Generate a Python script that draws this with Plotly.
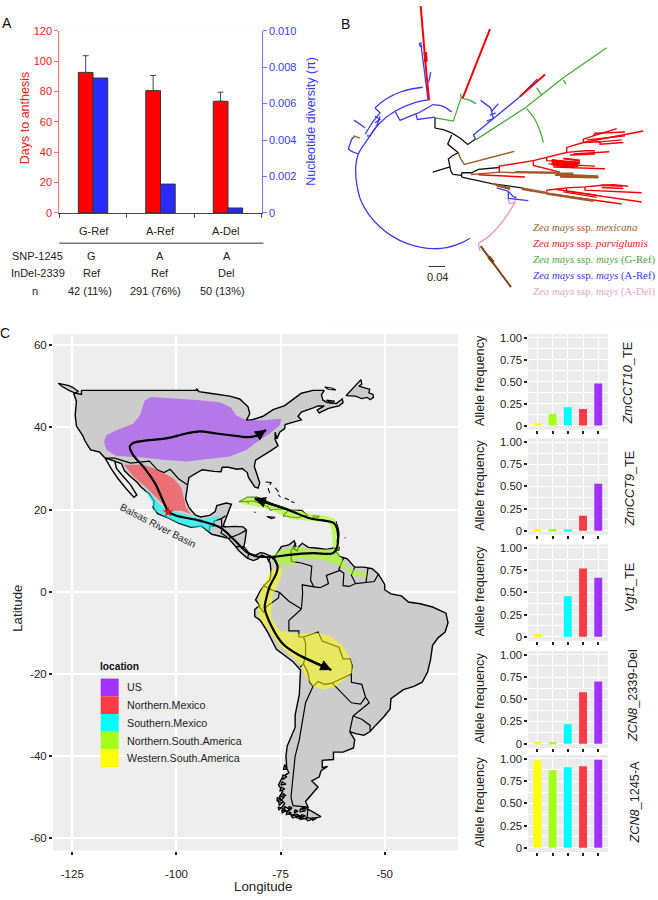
import plotly.graph_objects as go

W, H = 658, 900

# ---------- Panel A data ----------
hap_labels = ["G-Ref", "A-Ref", "A-Del"]
hap_pos = [0, 1, 2]
days_to_anthesis = [92.5, 80.5, 73.5]
days_err = [11, 10, 6]
nucleotide_div = [0.0074, 0.00158, 0.00027]
days_ticks = [0, 20, 40, 60, 80, 100, 120]
div_ticks = [0, 0.002, 0.004, 0.006, 0.008, 0.010]
div_tick_text = ["0", "0.002", "0.004", "0.006", "0.008", "0.010"]
row_snp = ["G", "A", "A"]
row_indel = ["Ref", "Ref", "Del"]
row_n = ["42 (11%)", "291 (76%)", "50 (13%)"]

# ---------- Panel B data: tree branches (tree layout units, 0.04 = 49 units) ----------
tree_black = [
 [(308,505),(360,489)],
 [(368,512),(362,500),(360,489),(357,476),(355,465),(366,456),(385,446)],
 [(353,420),(365,392)],
 [(353,420),(366,430),(378,438),(385,446)],
 [(315,340),(315,371),(340,376),(365,386),(392,403),(413,421),(436,405)],
 [(368,512),(395,515)],
 [(395,507),(396,515),(395,520)],
 [(395,507),(425,507),(445,497),(508,491)],
 [(395,520),(485,540),(575,553)],
]
tree_brown = [
 [(385,446),(392,465),(403,482),(553,442)],
 [(425,507),(425,512),(510,505)],
 [(508,505),(555,507)],
 [(485,540),(500,545),(540,553)],
 [(500,545),(540,557)],
 [(690,520),(805,522)],
 [(575,553),(650,567)],
 [(575,557),(650,570)],
 [(650,560),(650,570)],
 [(71,395),(90,402)],
]
tree_brown_thick = [
 [(555,505),(675,507)],
 [(675,503),(685,510),(730,510)],
 [(675,513),(805,518)],
 [(650,570),(790,592)],
 [(500,545),(540,555)],
]
tree_red = [
 [(508,484),(508,505)],
 [(508,487),(610,470)],
 [(610,470),(650,460),(710,445),(710,430),(760,415),(940,380)],
 [(760,415),(760,405),(790,395),(860,373)],
 [(790,395),(795,387),(885,383)],
 [(770,407),(885,395)],
 [(760,415),(810,413),(810,420),(880,415)],
 [(810,413),(875,407)],
 [(710,445),(765,440),(795,440)],
 [(730,450),(838,443)],
 [(720,453),(795,450)],
 [(650,460),(650,470),(750,475)],
 [(610,470),(610,485),(690,505)],
 [(655,480),(795,487)],
 [(670,490),(825,495)],
 [(445,513),(585,520)],
 [(690,518),(805,519)],
 [(650,560),(710,553),(765,550),(815,545),(878,548)],
 [(815,545),(850,543),(895,548)],
 [(765,550),(765,560),(935,568)],
 [(815,552),(880,555)],
 [(710,553),(710,563),(935,596)],
 [(680,558),(800,575)],
 [(650,570),(875,602)],
 [(700,565),(800,582)],
 [(575,553),(605,563)],
]
tree_red_thick = [
 [(287,180),(297,285)],
 [(272,0),(287,180)],
 [(480,70),(398,280)],
 [(645,208),(570,275)],
 [(665,468),(750,478)],
 [(665,473),(745,482)],
 [(665,478),(745,487)],
 [(668,484),(735,490)],
 [(700,464),(750,470)],
]
tree_red_block = [
 [(286,140),(288,170)],
]
tree_blue = [
 [(85,450),(65,442),(55,435),(65,405),(75,395)],
 [(72,347),(105,370)],
 [(135,310),(150,325),(130,350),(105,390)],
 [(110,395),(120,395),(140,365),(150,335)],
 [(135,335),(150,345),(135,355)],
 [(195,320),(210,348)],
 [(258,328),(262,345),(315,338)],
 [(272,110),(294,285)],
 [(268,112),(270,122),(277,125)],
 [(296,232),(302,200)],
 [(430,392),(437,405)],
 [(430,392),(565,280),(622,222)],
 [(470,350),(490,342),(482,310),(452,287)],
 [(485,320),(505,297)],
 [(480,332),(497,325)],
 [(500,553),(535,563),(535,585),(595,592)],
 [(535,563),(550,580),(560,583)],
]
tree_blue_arcs = [
 [(420,706),(390,722),(350,735),(310,738),(270,733),(230,722),(190,702),(150,672),(115,632),(92,590),
  (80,540),(77,505),(78,480),(85,450),(110,410),(150,355),(195,320),(250,295),(300,285)],
 [(135,310),(165,285),(215,260),(278,247)],
 [(210,348),(240,335),(275,320),(305,302)],
 [(305,300),(335,304),(365,322)],
]
tree_green = [
 [(315,340),(370,350),(393,280)],
 [(437,407),(585,310),(700,218),(830,127)],
 [(620,248),(635,270)],
 [(700,225),(708,238)],
]
tree_green_arcs = [
 [(392,266),(395,280),(415,285),(438,297)],
 [(590,312),(615,345),(630,380),(640,415)],
]
tree_pink = [
 [(445,722),(450,745)],
 [(535,585),(538,600),(555,598),(555,580)],
]
tree_pink_arcs = [
 [(445,722),(480,697),(510,665),(535,630),(555,598)],
]
tree_arrow_brown = [
 [(452,730),(543,855)],
]
tree_arrow_brown_thick = [
 [(476,762),(490,780)],
]
tree_legend = [
 ("<i>Zea mays</i> ssp. <i>mexicana</i>", "#9C5A2A"),
 ("<i>Zea mays</i> ssp. <i>parviglumis</i>", "#F01818"),
 ("<i>Zea mays</i> ssp. <i>mays</i> (G-Ref)", "#49A83A"),
 ("<i>Zea mays</i> ssp. <i>mays</i> (A-Ref)", "#3A3AEE"),
 ("<i>Zea mays</i> ssp. <i>mays</i> (A-Del)", "#EBA3CB"),
]

# ---------- Panel C data: map (lon, lat) ----------
americas = [
 (-122.8,49),(-95.2,49),(-95.2,49.4),(-94.6,48.7),(-92,48.3),(-89.5,48),(-87.2,47.6),(-84.8,46.9),(-82.8,45),(-82.4,43.3),
 (-83.2,41.7),(-81.6,41.9),(-79.2,42.7),(-76.8,44.3),(-74,45.3),(-72.4,46.5),(-70,48.3),(-67.2,49),(-64.5,49),(-65.2,47.9),(-64.8,46.6),
 (-63.8,46),(-61.6,45.8),(-60.2,46.9),(-60,46),(-61,45.2),(-63.5,44.6),(-65.7,43.5),(-66.2,44.2),(-64.5,45.2),(-66,45.2),(-67,44.8),
 (-68.5,44.3),(-70,43.7),(-70.8,42.7),(-70,41.8),(-71.5,41.4),(-73.9,40.7),(-74,39.7),(-75.2,38.8),(-75.9,37.2),(-76.3,38.8),(-76.3,37),(-75.6,35.5),
 (-77.5,34.2),(-79,33.2),(-81,32),(-81.3,30.5),(-80.5,28.2),(-80,26.5),(-80.4,25.2),(-81.2,25.5),(-82.7,27.8),(-83,29),(-84.2,30),
 (-85.5,29.8),(-87.5,30.3),(-89,30.3),(-89.3,29.2),(-91,29.3),(-93.8,29.7),(-95,29),(-97,27.8),(-97.3,26),(-97.8,22.5),(-97,20.5),
 (-95.5,18.7),(-94.2,18.2),(-92,18.6),(-90.7,19.5),(-90.3,21),(-88,21.6),(-86.8,21.3),(-87.5,19.5),(-88,18),(-88.8,16),(-88,15.8),
 (-86,15.9),(-84,15.8),(-83.2,15),(-83.5,12.5),(-83.8,11),(-82.5,9.3),(-81,8.9),(-79.8,9.5),(-79,9.4),(-77.4,8.7),(-76.8,8),(-75.6,9.7),
 (-74.8,11),(-73,11.4),(-71.7,12.4),(-71.3,11),(-71.8,10.4),(-71,10),(-70.6,11),(-69.8,11.8),(-68.3,10.8),(-66,10.6),(-64,10.3),(-62,10.7),
 (-61.8,10),(-60.8,8.6),(-59,8),(-57.2,6),(-55,6),(-53,5.6),(-51.5,4.3),(-50,1.8),(-50,0.5),(-48.5,-0.5),(-46,-1),(-44.3,-2.5),(-41.5,-2.9),
 (-38.5,-3.7),(-35.3,-5.2),(-34.8,-7.5),(-35.5,-9.8),(-37.2,-11.2),(-38.5,-13),(-39,-16.5),(-39.7,-19.5),(-41,-22),(-43,-23),(-45.5,-23.8),
 (-48.5,-26),(-48.7,-28.5),(-50.3,-30.5),(-52.2,-32.5),(-53.5,-34),(-55,-34.9),(-57,-34.5),(-58.4,-34),(-57.2,-36),(-57.5,-38),(-60,-39),
 (-62.3,-39),(-62.3,-40.8),(-65,-41),(-65,-42.8),(-63.7,-42.5),(-65.3,-43.5),(-65.7,-45),(-67.5,-46),(-66,-47.5),(-68,-50),(-69,-51),
 (-68.4,-52.4),(-70,-52.6),(-68.2,-53),(-65.3,-54.7),(-68,-55.4),(-71,-55),(-73,-54),(-74.8,-52.5),(-74,-51.5),(-75.3,-50),(-74.5,-48.5),(-75.5,-47),(-74.5,-45),
 (-73,-44),(-73.5,-43),(-73.7,-40),(-73.4,-37.5),(-71.5,-33),(-71.5,-30),(-70.5,-25),(-70.2,-19),(-72,-17),(-76,-14),(-78,-10),(-79.8,-7),
 (-81.2,-6),(-81.2,-4.3),(-80,-3.3),(-81,-2),(-80,0),(-79,1.5),(-77.5,3),(-77.3,5),(-77.5,7),(-78.3,8.3),(-79.5,8.9),(-80.5,8),(-81.5,7.6),
 (-83,8.2),(-85,10),(-85.8,11),(-87.5,13),(-89.5,13.5),(-91.5,14),(-94,16),(-96.5,15.7),(-99.5,16.7),(-102,18),(-104.5,19),(-105.6,20.5),
 (-105.3,22),(-106.5,23.8),(-108.5,25.5),(-109.5,26.7),(-111,28),(-112.5,29.5),(-113.2,31.2),(-114.8,31.8),(-117.1,32.5),(-118.5,34),
 (-120.6,34.5),(-122,36.8),(-122.5,38),(-124,40.3),(-124.3,43),(-124,46.3),(-124.7,48.4),(-122.8,48),(-122.8,49),
]
baja = [(-114.8,31.8),(-114.4,30),(-112.7,28),(-111,26),(-109.5,23.5),(-110.2,23),(-112,25),(-114,27.5),(-115.7,30),(-117.1,32.5),(-114.8,31.8)]
islands_land = [
 [(-128.4,50.7),(-126,50.2),(-125,49.8),(-123.5,48.7),(-124.5,48.4),(-125.8,49),(-127.5,50),(-128.4,50.7)],
 [(-59.3,47.7),(-58.5,48.6),(-57.8,49.5),(-56.7,50.6),(-55.7,51.6),(-55.5,50.5),(-56.2,50),(-54.8,49.6),(-53.6,49.3),(-53.8,48.4),(-52.8,48),(-52.7,47.3),(-53.5,46.7),(-54.2,47.3),(-55.5,47),(-57,47.6),(-59.3,47.7)],
 [(-64,46.6),(-62,46.4),(-63,46),(-64,46.6)],
 [(-74.2,-52.2),(-72.5,-53),(-73.8,-53.4),(-74.2,-52.2)],
 [(-71.5,-54),(-70,-54.6),(-72.5,-54.6),(-71.5,-54)],
 [(-69,-54.9),(-67,-55.2),(-68.5,-55.7),(-69,-54.9)],
 [(-75.2,-49.5),(-74.2,-50),(-75,-50.8),(-75.2,-49.5)],
 [(-74.8,-47.5),(-74,-48),(-75.2,-48.5),(-74.8,-47.5)],
 [(-74,-42),(-73.5,-43.2),(-74.3,-43.2),(-74,-42)],
 [(-74.5,-44.5),(-73.5,-45),(-74.4,-45.6),(-74.5,-44.5)],
 [(-74.6,-46.2),(-73.7,-46.8),(-74.9,-47),(-74.6,-46.2)],
 [(-70.3,-52.8),(-69,-53.3),(-70.3,-53.5),(-70.3,-52.8)],
 [(-75.5,-51),(-74.6,-51.3),(-75.3,-52),(-75.5,-51)],
 [(-73.5,-53.4),(-72.4,-53.8),(-73.6,-54.2),(-73.5,-53.4)],
 [(-72.4,-54.2),(-71.2,-54.6),(-72.1,-55),(-72.4,-54.2)],
 [(-70.5,-54.8),(-69.3,-55.1),(-70.3,-55.4),(-70.5,-54.8)],
 [(-74.4,-49),(-73.8,-49.5),(-74.5,-49.9),(-74.4,-49)],
 [(-75.6,-52.3),(-74.9,-52.6),(-75.4,-53.1),(-75.6,-52.3)],
 [(-74.7,-53),(-74,-53.4),(-74.6,-53.8),(-74.7,-53)],
 [(-75.8,-50),(-75.2,-50.5),(-75.8,-51),(-75.8,-50)],
 [(-73,-52.2),(-72.2,-52.6),(-73,-53),(-73,-52.2)],
 [(-71.5,-53),(-70.8,-53.4),(-71.7,-53.7),(-71.5,-53)],
 [(-70,-54.2),(-69,-54.5),(-70,-54.8),(-70,-54.2)],
 [(-67.5,-55),(-66.5,-55.2),(-67.3,-55.6),(-67.5,-55)],
]
islands_bare = [
 [(-64.4,49.8),(-62.5,49.5),(-61.7,49.1),(-63.5,49.2),(-64.4,49.8)],
 [(-84.9,21.9),(-83,23),(-80.5,23),(-77.5,21.7),(-74.2,20.2),(-77.5,19.9),(-78,20.7),(-81.5,22.1),(-84,21.9),(-84.9,21.9)],
 [(-78.3,18.3),(-76.3,18.1),(-77.2,17.8),(-78.3,18.3)],
 [(-74.4,18.5),(-73,19.9),(-70,19.8),(-68.4,18.6),(-71,18),(-72,18.2),(-74.4,18.5)],
 [(-67.2,18.5),(-65.7,18.4),(-66,18),(-67.2,18),(-67.2,18.5)],
 [(-78.6,26.7),(-77.2,26.6),(-77.6,26)],
 [(-78,25.2),(-77.6,24),(-77.9,24.5),(-78,25.2)],
 [(-76.3,25.3),(-75.5,24.3)],
 [(-75.5,23.6),(-75,23)],
 [(-74,22.8),(-73,22.4)],
 [(-72.5,21.9),(-71.6,21.7)],
 [(-83,21.9),(-82.6,21.5)],
 [(-81.3,19.4),(-81,19.3)],
 [(-61.7,17.2),(-61.4,16.5),(-61.2,15.6),(-61,14.6),(-61,13.3),(-61.7,12.2)],
 [(-61.7,10.7),(-60.9,10.8),(-61,10.1),(-61.7,10.1),(-61.7,10.7)],
 [(-59.6,13.2),(-59.4,13.1)],
]
borders = [
 [(-117.1,32.5),(-114.8,32.5),(-111,31.3),(-108.2,31.7),(-106.5,31.8),(-104.5,29.6),(-103,29),(-101.5,29.8),(-99.5,27.5),(-97.3,26)],
 [(-92.2,14.5),(-92,16),(-91,16),(-91,17.2),(-89.2,17.8),(-89.1,15.9),(-88.2,15.7)],
 [(-89.2,17.8),(-88.2,18.5)],
 [(-89.1,15),(-89.3,14.3),(-87.8,13.3)],
 [(-87.5,13),(-85,14),(-83.2,15)],
 [(-85.7,11),(-83.7,10.9)],
 [(-82.9,8.2),(-82.6,9.5)],
 [(-77.9,7.2),(-77.4,8.7)],
 [(-71.3,11.8),(-72.5,10),(-72.4,7.4),(-70,7),(-67.5,6.2),(-67.8,2.8),(-67,1.2)],
 [(-67,1.2),(-69.8,1.7),(-69.7,-0.5),(-70,-4.2)],
 [(-79,1.4),(-77,0.4),(-75.3,-0.1)],
 [(-75.3,-0.1),(-73,-2.3),(-70,-4.2)],
 [(-75.3,-0.1),(-75.5,-1.5),(-78.3,-3.5),(-79,-5),(-80.3,-3.4)],
 [(-70,-4.2),(-73,-7),(-73,-9.5),(-70.6,-9.5),(-70.6,-11),(-69.5,-11)],
 [(-69.5,-11),(-69,-12.5),(-69,-15.5),(-69.5,-17.5),(-70.3,-18.3)],
 [(-69.5,-17.5),(-68.5,-19.5),(-68,-22),(-67.2,-23)],
 [(-69.5,-11),(-66,-9.8),(-65,-12),(-61,-13.5),(-60,-16.3),(-58.3,-16.3),(-57.8,-18),(-58,-20)],
 [(-58,-20),(-62.3,-22),(-62.6,-22.2)],
 [(-62.6,-22.2),(-64.5,-22.5),(-66,-21.8),(-67.2,-23)],
 [(-67.2,-23),(-69,-27),(-70,-33),(-70.5,-36),(-71.5,-40),(-72,-45),(-72.5,-50),(-72,-52),(-68.4,-52.4)],
 [(-62.6,-22.2),(-58,-27),(-55.8,-27.3),(-54.6,-25.6)],
 [(-58,-20),(-58,-22),(-55.5,-22.5),(-54.6,-25.6)],
 [(-54.6,-25.6),(-53.7,-27),(-57.6,-30.2)],
 [(-57.6,-30.2),(-58.3,-33.5),(-58.4,-34)],
 [(-57.6,-30.2),(-55.5,-31),(-53.5,-32.5),(-53.5,-34)],
 [(-59.8,8.4),(-61,5.5),(-60.7,5.2)],
 [(-60.7,5.2),(-64,4),(-63.5,2),(-65.5,1),(-67,1.2)],
 [(-60.7,5.2),(-59.8,4.5),(-60,1.5),(-58.5,1.3),(-57,2)],
 [(-57.2,6),(-58,4),(-57,2)],
 [(-54,5.8),(-54.5,2.3)],
 [(-57,2),(-54.5,2.3),(-52.5,2.5),(-51.5,4.3)],
 [(-68.4,-52.4),(-68.6,-54.8)],
]
region_us = [(-117.4,36.5),(-116.8,38.1),(-114.4,39.3),(-110.4,40.9),(-108.8,42.9),(-107.6,46.5),(-106,47.4),(-100.8,47.1),(-94.4,46.6),
 (-89.6,46.1),(-87,44.9),(-85.6,42.9),(-83.2,41.7),(-79.2,41.7),(-74.8,42.1),(-75.2,40.5),(-77.6,38.5),(-80,36.9),(-83.2,34.5),(-87.2,32.9),
 (-90.4,32.5),(-97.6,31.7),(-103.2,32.1),(-108.8,32.7),(-114.4,33),(-116.8,34.5)]
region_nmex = [(-112.6,30.9),(-108,30.9),(-105.6,30.1),(-103.2,28.9),(-100.8,27.7),(-98.8,25.3),(-98.4,23.3),(-97.7,20.5),(-96.6,18.9),
 (-98.8,19.7),(-101.6,19.7),(-103.2,21.3),(-105.2,23.3),(-107.2,25.3),(-110.4,28.1)]
region_smex = [(-108,25.7),(-105.6,22.9),(-103.2,20.5),(-100,19.4),(-96.8,18.5),(-93.6,17.7),(-89.6,18.5),(-90.4,17.3),(-91.2,16.1),(-92,14.5),
 (-93.6,15.7),(-96.4,15.7),(-100,16.9),(-103.2,18.5),(-105.2,19.7),(-106,22.1)]
region_nsa_carib = [(-84.9,22.1),(-83.2,23.1),(-80.8,22.9),(-77.6,21.8),(-72.8,20.2),(-68,19),(-64,18.5),(-62,17.7),(-61.2,15.3),(-60.9,10.5),
 (-62.4,10.5),(-62.8,15.3),(-63.6,16.9),(-68,17.3),(-72.8,17.7),(-76.8,19.7),(-79.2,20.5),(-81.6,20.9),(-84,21.3)]
region_nsa_main = [(-76.8,8.5),(-75.2,10.1),(-71.2,11),(-67.2,10.1),(-61.6,10.5),(-60.4,8.1),(-58.8,5.7),(-54.4,4.7),(-54.4,3.4),(-57.6,3.9),
 (-60.4,6.1),(-64.8,7.7),(-70.4,8.2),(-72.4,6.3),(-75.6,6.6),(-76.8,7.3)]
region_wsa = [(-76.9,5.7),(-74.4,5.7),(-75.2,2.5),(-76.8,-0.7),(-77.2,-3.9),(-77.2,-6.3),(-75.2,-9.5),(-71.2,-10.2),(-66.4,-9.9),(-63.2,-10.7),
 (-60,-13.1),(-58,-16.7),(-57.6,-19.5),(-59.2,-21.1),(-62,-23.1),(-64.4,-23.8),(-67.2,-23.1),(-69.2,-20.3),(-70,-17.9),(-72,-15.9),(-75.2,-13.1),
 (-77.6,-9.9),(-80.4,-5.9),(-80.4,-3.9),(-80,-0.3),(-78.8,2.5)]
route_north = [(-102,19.4),(-103.2,22.1),(-105.2,26.5),(-108,30.5),(-110.4,33.3),(-111.2,35.3),(-110.4,36.2),(-108,36.7),(-102.4,37.3),
 (-97.6,38.5),(-94.4,39),(-90.4,38.5),(-84.8,37.8),(-83.2,37.6),(-80.4,38.1),(-78.5,39.4)]
route_east = [(-102,19.4),(-100,18.5),(-94.4,17.3),(-89.6,15.7),(-86.4,12.9),(-83.2,9.7),(-81.2,8.7),(-76.8,8.5),(-72.8,9),(-67.2,9.4),(-62.4,9.4),
 (-61.4,10.9),(-61.4,15.3),(-62.2,16.7),(-68,17.9),(-73.6,20.1),(-81.2,22.6)]
route_south = [(-76.8,8.5),(-75.7,6.1),(-76,4.5),(-77.6,1.3),(-78.5,-1.9),(-78.8,-3.9),(-77.2,-8.3),(-74.4,-12.7),(-70.4,-15.5),(-62.8,-19)]
origin_star = (-102, 19.4)
lon_ticks = [-125, -100, -75, -50]
lon_tick_text = ["-125", "-100", "-75", "-50"]
lat_ticks = [60, 40, 20, 0, -20, -40, -60]
lat_tick_text = ["60", "40", "20", "0", "-20", "-40", "-60"]
locations = ["US", "Northern.Mexico", "Southern.Mexico", "Northern.South.America", "Western.South.America"]
location_colors = ["#A033FF", "#FF3B46", "#00FFFF", "#A6FF1A", "#FFFF00"]

# ---------- Allele frequency panels ----------
bar_colors = ["#FFFF00", "#A6FF1A", "#00FFFF", "#FF3B46", "#A033FF"]
bar_cats = [0, 1, 2, 3, 4]
freq_zmcct10 = [0.025, 0.135, 0.21, 0.19, 0.48]
freq_zmcct9 = [0.02, 0.02, 0.015, 0.17, 0.53]
freq_vgt1 = [0.03, 0, 0.455, 0.77, 0.665]
freq_del = [0.02, 0.02, 0.22, 0.58, 0.70]
freq_1245 = [0.98, 0.87, 0.905, 0.915, 0.99]
freq_ticks = [0, 0.25, 0.5, 0.75, 1.0]
freq_tick_text = ["0", "0.25", "0.50", "0.75", "1.00"]
freq_minor = [0.125, 0.375, 0.625, 0.875]
freq_names = ["<i>ZmCCT10</i>_TE", "<i>ZmCCT9</i>_TE", "<i>Vgt1</i>_TE", "<i>ZCN8</i>_2339-Del", "<i>ZCN8</i>_1245-A"]
freq_series = [freq_zmcct10, freq_zmcct9, freq_vgt1, freq_del, freq_1245]

# ---------- layout helpers ----------
FONT = "Liberation Sans, Arial, sans-serif"
def xdom(a, b): return [a / W, b / W]
def ydom(top, bottom): return [1 - bottom / H, 1 - top / H]

fig = go.Figure()
annots = []
shapes = []
def text(s, px, py, size=11, color="#222222", angle=0, family=FONT, anchor="center"):
    annots.append(dict(text=s, x=px / W, y=1 - py / H, xref="paper", yref="paper", showarrow=False,
                       font=dict(size=size, color=color, family=family), textangle=angle,
                       xanchor=anchor, yanchor="middle"))

# ---------- Panel A ----------
fig.add_trace(go.Bar(x=hap_pos, y=days_to_anthesis, width=0.218, offset=-0.218, marker=dict(color="#FF0000", line=dict(color="#333333", width=1)),
                     error_y=dict(type="data", symmetric=False, array=days_err, arrayminus=[0, 0, 0], color="#444444", thickness=1, width=3),
                     xaxis="x", yaxis="y"))
fig.add_trace(go.Bar(x=hap_pos, y=nucleotide_div, width=0.218, offset=0, marker=dict(color="#2A2AFF", line=dict(color="#333333", width=1)),
                     xaxis="x", yaxis="y2"))
layout = dict(
    xaxis=dict(domain=xdom(59.3, 261.7), range=[-0.5, 2.5], tickvals=[-0.5, 0.5, 1.5, 2.5], ticktext=["", "", "", ""], ticks="outside", ticklen=4,
               tickcolor="#444444", showgrid=False, zeroline=False, showline=True, linecolor="#444444", linewidth=1, anchor="y"),
    yaxis=dict(domain=ydom(25, 209.7), range=[0, 120], tickvals=days_ticks, ticks="outside", ticklen=4, tickcolor="#FF7070", linecolor="#FF7070",
               showline=True, linewidth=1, showgrid=False, zeroline=False, tickfont=dict(size=11, color="#F52020", family=FONT), anchor="x"),
    yaxis2=dict(domain=ydom(25, 209.7), range=[0, 0.01], tickvals=div_ticks, ticktext=div_tick_text, overlaying="y", side="right", ticks="outside", ticklen=4,
                tickcolor="#7878FF", linecolor="#7878FF", showline=True, linewidth=1, showgrid=False, zeroline=False,
                tickfont=dict(size=11, color="#3A3AFF", family=FONT), anchor="x"),
)
text("Days to anthesis", 25.7, 114, 12.5, "#F52020", -90)
text("Nucleotide diversity (π)", 310.7, 116.7, 12.5, "#3A3AFF", -90)
hap_text_x = [94, 160, 226]
for lab, px in zip(hap_labels, hap_text_x):
    text(lab, px, 228, 11)
shapes.append(dict(type="line", xref="paper", yref="paper", x0=59.3 / W, x1=263.5 / W, y0=1 - 240.5 / H, y1=1 - 240.5 / H, line=dict(color="#777777", width=1.5)))
text("SNP-1245", 37.5, 253, 11); text("InDel-2339", 37.7, 270.5, 11); text("n", 35, 289, 11)
for s, px in zip(row_snp, [91, 160, 226.7]): text(s, px, 253, 11)
for s, px in zip(row_indel, [91.7, 160, 226]): text(s, px, 270.5, 11)
for s, px in zip(row_n, [90, 155, 222]): text(s, px, 289, 11)
text("A", 7, 17, 14, "#111111"); text("B", 345, 18, 14, "#111111"); text("C", 5, 331, 14, "#111111")

# ---------- Panel B ----------
def add_tree(polys, color, width, shape="linear"):
    xs, ys = [], []
    for p in polys:
        xs += [q[0] for q in p] + [None]
        ys += [q[1] for q in p] + [None]
    fig.add_trace(go.Scatter(x=xs, y=ys, mode="lines", line=dict(color=color, width=width, shape=shape), xaxis="x2", yaxis="y3"))

layout["xaxis2"] = dict(domain=xdom(330, 658), range=[0, 984], visible=False, anchor="y3")
layout["yaxis3"] = dict(domain=ydom(0, 320), range=[960, 0], visible=False, anchor="x2")
BROWN = "#9C5A2A"; RED = "#F40000"; BLUE = "#3A3AEE"; GREEN = "#49A83A"; PINK = "#E68FC2"
add_tree(tree_pink, PINK, 1.2)
add_tree(tree_pink_arcs, PINK, 1.2, "spline")
add_tree(tree_blue, BLUE, 1.3)
add_tree(tree_blue_arcs, BLUE, 1.3, "spline")
add_tree(tree_green, GREEN, 1.3)
add_tree(tree_green_arcs, GREEN, 1.3, "spline")
add_tree(tree_black, "#111111", 1.3)
add_tree(tree_red, RED, 1.4)
add_tree(tree_red_thick, RED, 2)
add_tree(tree_red_block, RED, 3.5)
add_tree(tree_brown, BROWN, 1.4)
add_tree(tree_brown_thick, BROWN, 2.4)
add_tree(tree_arrow_brown, "#7A4418", 2)
add_tree(tree_arrow_brown_thick, "#7A4418", 3.5)
for (s, c), py in zip(tree_legend, [224, 240.7, 256.7, 272.7, 289]):
    text(s, 531, py, 10.8, c, family="Liberation Serif, Times New Roman, serif", anchor="left")
shapes.append(dict(type="line", xref="paper", yref="paper", x0=428.7 / W, x1=445 / W, y0=1 - 264 / H, y1=1 - 264 / H, line=dict(color="#333333", width=1)))
text("0.04", 437.5, 275, 11)

# ---------- Panel C ----------
def add_poly(pts, fill=None, line="#000000", width=1.4, shape="linear"):
    fig.add_trace(go.Scatter(x=[p[0] for p in pts], y=[p[1] for p in pts], mode="lines",
                             fill="toself" if fill else None, fillcolor=fill,
                             line=dict(color=line, width=width, shape=shape), xaxis="x3", yaxis="y4"))
layout["xaxis3"] = dict(domain=xdom(53, 458), range=[-129.63, -32.4], tickvals=lon_ticks, ticktext=lon_tick_text, ticks="outside", ticklen=3, tickwidth=2, tickcolor="#222222",
                        showgrid=True, gridcolor="white", gridwidth=1.5, zeroline=False, showline=False, ticklabelstandoff=10,
                        tickfont=dict(size=11.5, color="#222222", family=FONT), anchor="y4")
layout["yaxis4"] = dict(domain=ydom(332.7, 856), range=[-62.95, 62.64], tickvals=lat_ticks, ticktext=lat_tick_text, ticks="outside", ticklen=3, tickwidth=2, tickcolor="#222222",
                        showgrid=True, gridcolor="white", gridwidth=1.5, zeroline=True, zerolinecolor="white", zerolinewidth=1.5, showline=False,
                        tickfont=dict(size=11.5, color="#222222", family=FONT), anchor="x3")
add_poly(americas, "#CCCCCC")
add_poly(baja, "#EEEEEE")
for isl in islands_land:
    add_poly(isl, "#CCCCCC", width=1.3)
for isl in islands_bare:
    add_poly(isl, None, width=1.1)
for b in borders:
    add_poly(b, None, width=1.2)
for reg, col in [(region_us, "rgba(160,51,255,0.55)"), (region_nmex, "rgba(255,45,55,0.58)"), (region_smex, "rgba(0,255,255,0.62)"),
                 (region_nsa_carib, "rgba(166,255,26,0.62)"), (region_nsa_main, "rgba(166,255,26,0.62)"), (region_wsa, "rgba(255,255,0,0.52)")]:
    add_poly(reg, col, line="rgba(0,0,0,0)", width=0)
for route in [route_north, route_east, route_south]:
    add_poly(route, None, width=2.2, shape="spline")
    annots.append(dict(x=route[-1][0], y=route[-1][1], ax=route[-2][0], ay=route[-2][1], xref="x3", yref="y4", axref="x3", ayref="y4", text="",
                       showarrow=True, arrowhead=2, arrowsize=1, arrowwidth=2.2, arrowcolor="#000000"))
fig.add_trace(go.Scatter(x=[origin_star[0]], y=[origin_star[1]], mode="markers", marker=dict(symbol="star", size=8, color="#FF0000"), xaxis="x3", yaxis="y4"))
annots.append(dict(text="Balsas River Basin", x=-104.5, y=16.1, xref="x3", yref="y4", showarrow=False, textangle=27.5,
                   font=dict(size=10, color="#222222", family=FONT)))
# bottom axis title sits flush with the page's lower edge
annots.append(dict(text="Longitude", x=262.7 / W, y=0, xref="paper", yref="paper", showarrow=False, borderpad=0, borderwidth=0,
                   xanchor="center", yanchor="bottom", font=dict(size=13.3, color="#222222", family=FONT)))
text("Latitude", 18, 611, 13.3, angle=-90)
text("<b>location</b>", 119, 669.5, 10.2, "#111111")
for i, (name, col) in enumerate(zip(locations, location_colors)):
    y0 = 681.7 + 17.95 * i
    shapes.append(dict(type="rect", xref="paper", yref="paper", x0=100.7 / W, x1=118.7 / W, y0=1 - y0 / H, y1=1 - (y0 + 17.95) / H,
                       fillcolor=col, line=dict(width=0)))
    text(name, 124.5, y0 + 9, 10.7, "#222222", anchor="left")

# ---------- Allele frequency panels ----------
panel_px = [(332.7, 429.3), (438.3, 536), (545.7, 643.3), (654, 751.7), (759.3, 857.3)]
name_px = [(628, 382.7), (630, 489), (630, 590), (633, 699.3), (635, 807.3)]
for i, (vals, (top, bot)) in enumerate(zip(freq_series, panel_px)):
    xn, yn = i + 4, i + 5
    fig.add_trace(go.Bar(x=bar_cats, y=vals, width=0.52, marker=dict(color=bar_colors, line=dict(width=0)), xaxis=f"x{xn}", yaxis=f"y{yn}"))
    layout[f"xaxis{xn}"] = dict(domain=xdom(528.3, 607.7), range=[-0.59, 4.62], tickvals=bar_cats, ticktext=[""] * 5, ticks="outside", ticklen=3, tickwidth=1.5,
                                tickcolor="#222222", showgrid=True, gridcolor="white", gridwidth=1.3, zeroline=False, showline=False, anchor=f"y{yn}")
    layout[f"yaxis{yn}"] = dict(domain=ydom(top, bot), range=[-0.045, 1.04], tickvals=freq_ticks, ticktext=freq_tick_text, ticks="outside", ticklen=3, tickwidth=1.5,
                                tickcolor="#222222", showgrid=True, gridcolor="white", gridwidth=1.3, zeroline=False, showline=False,
                                minor=dict(tickvals=freq_minor, showgrid=True, gridcolor="white", gridwidth=0.6, ticks=""),
                                tickfont=dict(size=11.3, color="#222222", family=FONT), anchor=f"x{xn}")
    text("Allele frequency", 480, (top + bot) / 2 - 1, 12.7, angle=-90)
    text(freq_names[i], name_px[i][0], name_px[i][1], 12.7, angle=-90)

fig.update_layout(width=W, height=H, margin=dict(l=0, r=0, t=0, b=0), paper_bgcolor="white", plot_bgcolor="#EEEEEE",
                  showlegend=False, barmode="overlay", annotations=annots, shapes=shapes, font=dict(family=FONT), **layout)

# panel backgrounds drawn per subplot
bg_shapes = []
for xr, yr, col in [("x domain", "y domain", "white"), ("x2 domain", "y3 domain", "white")] + [(f"x{n} domain", f"y{n+1} domain", "#EBEBEB") for n in range(4, 9)]:
    bg_shapes.append(dict(type="rect", xref=xr, yref=yr, x0=0, x1=1, y0=0, y1=1, fillcolor=col, line=dict(width=0), layer="below"))
fig.update_layout(shapes=list(fig.layout.shapes) + bg_shapes)

fig.write_html("out.html", config={"displayModeBar": False}, post_script="document.body.style.margin='0';")
